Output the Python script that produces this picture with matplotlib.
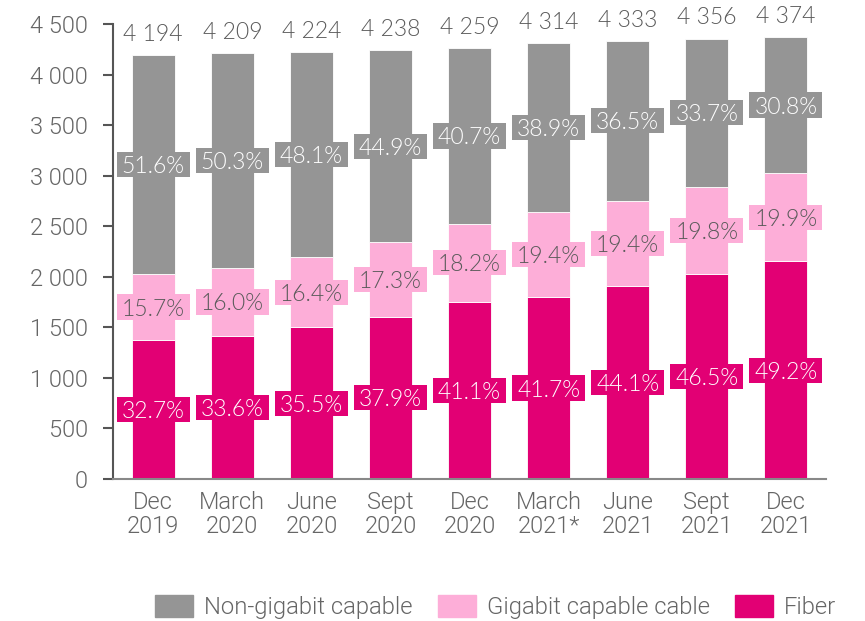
import matplotlib
matplotlib.use('Agg')
import matplotlib.pyplot as plt
from matplotlib.patches import Patch, Rectangle
import numpy as np

# values
periods = ['Dec\n2019', 'March\n2020', 'June\n2020', 'Sept\n2020', 'Dec\n2020',
           'March\n2021*', 'June\n2021', 'Sept\n2021', 'Dec\n2021']
totals = [4194, 4209, 4224, 4238, 4259, 4314, 4333, 4356, 4374]
fiber_pct = [32.7, 33.6, 35.5, 37.9, 41.1, 41.7, 44.1, 46.5, 49.2]
cable_pct = [15.7, 16.0, 16.4, 17.3, 18.2, 19.4, 19.4, 19.8, 19.9]
nongig_pct = [51.6, 50.3, 48.1, 44.9, 40.7, 38.9, 36.5, 33.7, 30.8]

GREY = '#959595'
PINK = '#fdaed8'
MAGENTA = '#e20074'
TEXT = '#5a5a5a'

plt.rcParams['font.family'] = ['Lato', 'DejaVu Sans']
TICKFONT = ['Roboto', 'DejaVu Sans']

tot = np.array(totals, dtype=float)
fiber = tot * np.array(fiber_pct) / 100
cable = tot * np.array(cable_pct) / 100
nongig = tot - fiber - cable

fig = plt.figure(figsize=(8.65, 6.21), dpi=100)
ax = fig.add_axes([0.1306, 0.2287, 0.8244, 0.7327])

x = np.arange(len(periods))
w = 0.55
ax.bar(x, fiber, w, color=MAGENTA, edgecolor='white', linewidth=0.6)
ax.bar(x, cable, w, bottom=fiber, color=PINK, edgecolor='white', linewidth=0.6)
ax.bar(x, nongig, w, bottom=fiber + cable, color=GREY, edgecolor='white', linewidth=0.6)

# label boxes: ~73 x 25 px
box_w, box_h = 0.92, 250

def label(xi, y, txt, bg, fg):
    ax.add_patch(Rectangle((xi - box_w / 2, y - box_h / 2), box_w, box_h,
                           facecolor=bg, edgecolor='none', zorder=3))
    ax.text(xi, y, txt, ha='center', va='center_baseline', fontsize=16.5, color=fg,
            fontweight=300, zorder=4)

for i in range(len(periods)):
    label(x[i], fiber[i] / 2, f'{fiber_pct[i]:.1f}%', MAGENTA, 'white')
    label(x[i], fiber[i] + cable[i] / 2, f'{cable_pct[i]:.1f}%', PINK, TEXT)
    label(x[i], fiber[i] + cable[i] + nongig[i] / 2, f'{nongig_pct[i]:.1f}%', GREY, 'white')
    ax.text(x[i], totals[i] + 100, f'{totals[i]:,}'.replace(',', ' '), ha='center',
            va='bottom', fontsize=16.5, color=TEXT, fontweight=300, clip_on=False)

ax.set_xlim(-0.51, len(periods) - 0.49)
ax.set_ylim(0, 4500)
ax.set_yticks(np.arange(0, 4501, 500))
ax.set_yticklabels([f'{v:,}'.replace(',', ' ') for v in range(0, 4501, 500)])
ax.set_xticks(x)
ax.set_xticklabels(periods)
ax.tick_params(axis='y', length=7, width=1.5, color='#555555', labelsize=17,
               labelcolor='#666666', pad=11)
ax.tick_params(axis='x', length=0, labelsize=17, labelcolor='#666666', pad=9)
for t in ax.get_xticklabels() + ax.get_yticklabels():
    t.set_family(TICKFONT)
    t.set_fontweight(300)
    t.set_linespacing(1.05)

for s in ['top', 'right']:
    ax.spines[s].set_visible(False)
ax.spines['left'].set_color('#555555')
ax.spines['left'].set_linewidth(1.5)
ax.spines['bottom'].set_color('#888888')
ax.spines['bottom'].set_linewidth(1.5)

handles = [Patch(color=GREY, label='Non-gigabit capable'),
           Patch(color=PINK, label='Gigabit capable cable'),
           Patch(color=MAGENTA, label='Fiber')]
leg = fig.legend(handles=handles, loc='center', bbox_to_anchor=(0.573, 0.022), ncol=3,
                 frameon=False, handlelength=1.6, handleheight=1.05,
                 columnspacing=1.05, handletextpad=0.46,
                 prop={'family': TICKFONT, 'weight': 300, 'size': 17.2})
for t in leg.get_texts():
    t.set_color('#666666')

fig.savefig('out.png', dpi=100)
